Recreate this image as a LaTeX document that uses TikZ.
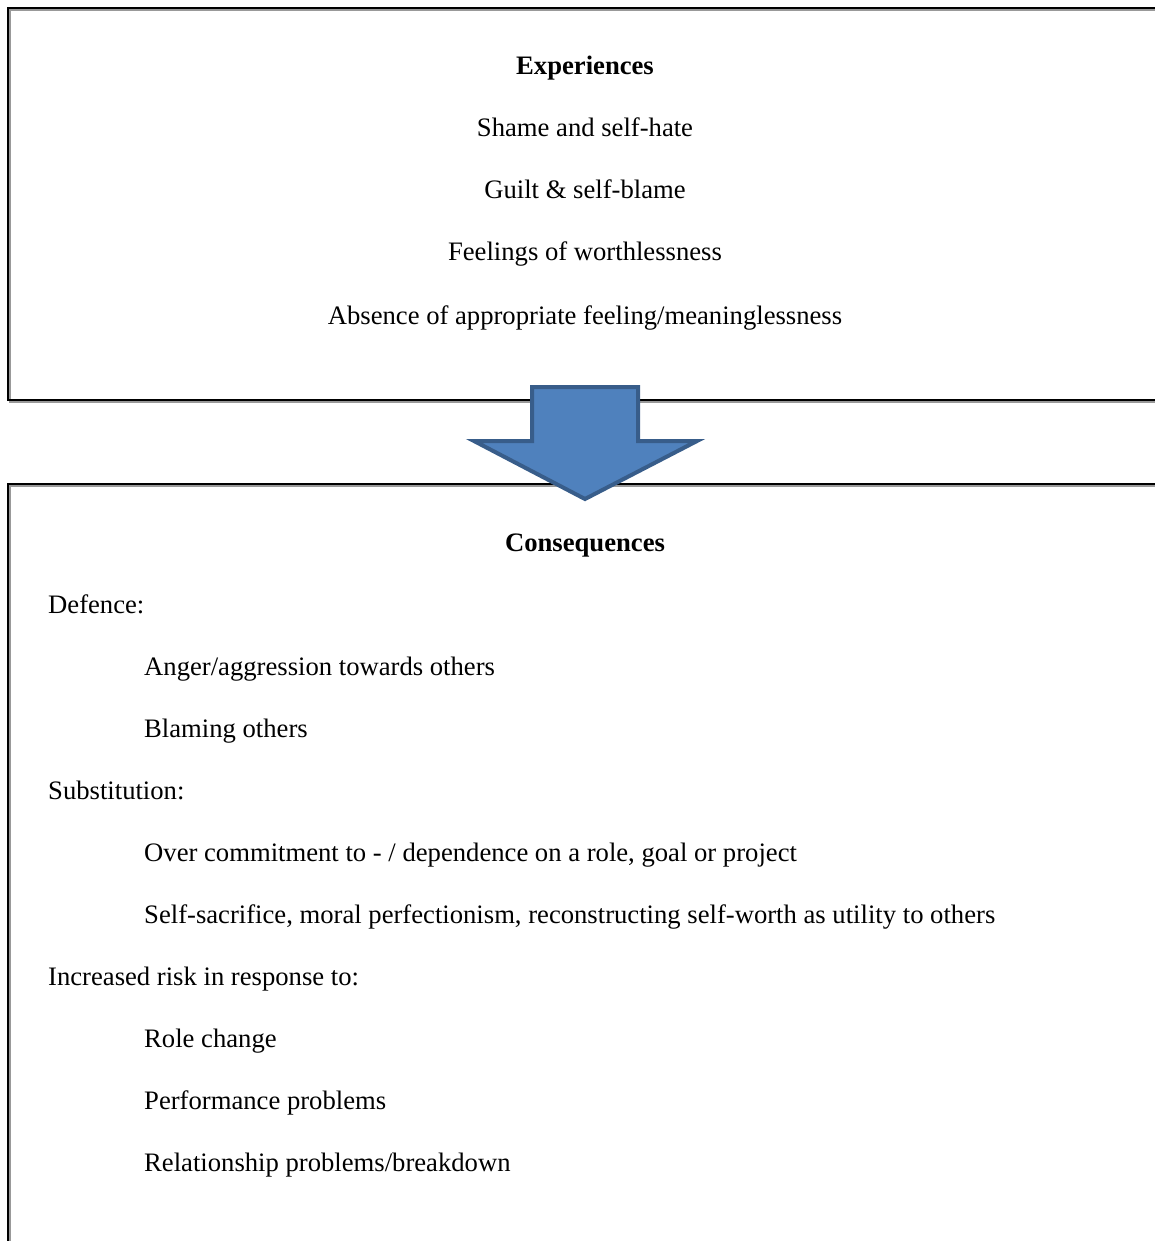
\documentclass[tikz,border=0pt]{standalone}
\usepackage{fontspec}
\setmainfont{Liberation Serif}
\definecolor{arrowfill}{HTML}{4F81BD}
\definecolor{arrowline}{HTML}{385D8A}
\begin{document}
\begin{tikzpicture}[x=1pt,y=-1pt,
  txt/.style={inner sep=0pt, anchor=base, font=\fontsize{26.65}{30}\selectfont},
  ltxt/.style={txt, anchor=base west},
  head/.style={txt, font=\fontsize{26.65}{30}\selectfont\bfseries},
  frame/.style={line width=2.2pt, draw=black},
  frameshade/.style={line width=1.6pt, draw=black!40},
  bigarrow/.style={fill=arrowfill, draw=arrowline, line width=4pt, line join=miter},
]
\useasboundingbox (0,0) rectangle (1155,1241);
\fill[white] (0,0) rectangle (1155,1241);

% upper frame (open to the right)
\draw[frameshade] (1165,10) -- (10,10) -- (10,402) -- (1165,402);
\draw[frame] (1165,8) -- (8,8) -- (8,400) -- (1165,400);

% lower frame (open to the right and below)
\draw[frameshade] (1165,486) -- (10,486) -- (10,1250);
\draw[frame] (1165,484) -- (8,484) -- (8,1250);

% upper frame text
\node[head] (exp) at (585,75) {Experiences};
\node[txt] (e1) at (585,137) {Shame and self-hate};
\node[txt] (e2) at (585,199) {Guilt \& self-blame};
\node[txt] (e3) at (585,261) {Feelings of worthlessness};
\node[txt] (e4) at (585,324) {Absence of appropriate feeling/meaninglessness};

% lower frame text
\node[head] (con) at (585,551) {Consequences};
\node[ltxt] (c1) at (48,613) {Defence:};
\node[ltxt] (c2) at (144,675) {Anger/aggression towards others};
\node[ltxt] (c3) at (144,737) {Blaming others};
\node[ltxt] (c4) at (48,799) {Substitution:};
\node[ltxt] (c5) at (144,861) {Over commitment to - / dependence on a role, goal or project};
\node[ltxt] (c6) at (144,923) {Self-sacrifice, moral perfectionism, reconstructing self-worth as utility to others};
\node[ltxt] (c7) at (48,985) {Increased risk in response to:};
\node[ltxt] (c8) at (144,1047) {Role change};
\node[ltxt] (c9) at (144,1109) {Performance problems};
\node[ltxt] (c10) at (144,1171) {Relationship problems/breakdown};

% block arrow between the frames
\draw[bigarrow] (532,387) -- (638,387) -- (638,441) -- (697,441)
  -- (585,499) -- (474,441) -- (532,441) -- cycle;
\end{tikzpicture}
\end{document}
